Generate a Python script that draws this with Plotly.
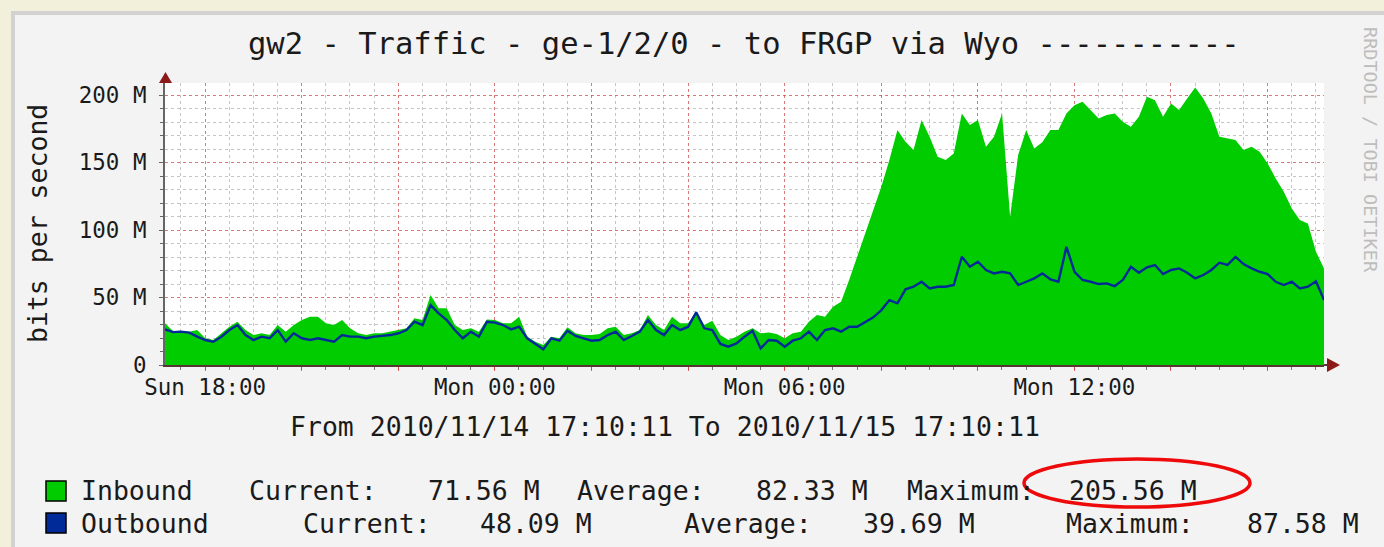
import plotly.graph_objects as go
import pandas as pd

# ---------------- data ----------------
title_text = "gw2 - Traffic - ge-1/2/0 - to FRGP via Wyo -----------"
range_text = "From 2010/11/14 17:10:11 To 2010/11/15 17:10:11"
y_title = "bits per second"
watermark = "RRDTOOL / TOBI OETIKER"

start_time = "2010-11-14 17:10:11"
end_time = "2010-11-15 17:10:11"
times = pd.date_range(start_time, periods=145, freq="10min")

inbound = [
    30.9, 25.2, 24.7, 24.7, 25.9, 19.8, 18.5, 23.5, 28.4, 32.1,
    25.9, 22.2, 23.5, 22.2, 29.6, 24.7, 29.6, 33.3, 35.8, 35.8,
    30.9, 29.6, 33.3, 27.2, 23.5, 22.2, 23.5, 23.5, 24.7, 25.9,
    27.2, 34.6, 33.3, 51.9, 42.0, 42.0, 29.6, 25.9, 27.2, 24.7,
    33.8, 33.3, 30.9, 30.9, 35.8, 21.0, 17.3, 14.8, 21.0, 19.8,
    27.9, 23.5, 22.2, 22.2, 23.0, 27.2, 28.4, 22.2, 23.5, 25.9,
    37.0, 29.6, 25.9, 35.8, 30.9, 30.9, 39.5, 29.6, 32.8, 22.2,
    18.5, 21.0, 24.7, 27.2, 23.5, 24.0, 23.0, 19.8, 23.5, 24.7,
    32.1, 37.0, 35.8, 43.2, 46.9, 63.0, 80.2, 97.5, 114.8, 132.1,
    151.9, 174.1, 165.4, 159.3, 181.5, 169.1, 154.3, 151.9, 156.8, 186.4,
    177.8, 181.5, 161.7, 169.1, 186.4, 109.9, 155.6, 174.1, 160.5, 165.0,
    174.1, 174.1, 186.4, 192.6, 195.1, 188.9, 182.7, 185.2, 186.4, 180.2,
    176.5, 183.9, 198.8, 196.3, 183.9, 193.8, 188.9, 197.5, 205.6, 197.5,
    186.4, 169.1, 167.9, 166.7, 159.3, 161.7, 158.0, 149.4, 138.3, 128.4,
    116.0, 107.4, 104.9, 84.0, 71.6,
]

outbound = [
    26.4, 24.4, 24.7, 24.0, 21.0, 18.5, 17.3, 21.0, 25.9, 29.6,
    22.2, 18.5, 21.0, 19.8, 25.9, 17.3, 23.5, 19.8, 18.5, 19.8,
    18.5, 17.3, 22.2, 21.0, 21.0, 19.8, 21.0, 21.5, 22.2, 23.5,
    25.9, 32.1, 29.6, 44.4, 38.3, 33.3, 25.9, 19.8, 24.7, 21.0,
    32.1, 31.4, 29.6, 26.4, 28.4, 19.8, 16.0, 11.6, 19.8, 18.0,
    25.4, 21.5, 19.8, 18.0, 18.5, 22.2, 24.7, 18.5, 21.5, 24.7,
    33.3, 25.9, 22.2, 29.6, 25.9, 28.4, 39.0, 27.2, 25.9, 15.6,
    13.6, 16.0, 21.0, 25.4, 12.3, 18.5, 18.0, 13.6, 18.0, 19.8,
    24.7, 18.5, 25.9, 27.2, 24.7, 28.4, 28.4, 32.1, 35.3, 40.7,
    48.1, 45.7, 56.1, 58.0, 61.7, 56.8, 58.0, 58.0, 59.3, 80.2,
    72.8, 76.5, 70.4, 67.9, 69.1, 67.9, 59.3, 61.7, 64.2, 67.9,
    63.5, 61.7, 87.6, 69.1, 63.0, 61.7, 60.0, 60.5, 58.5, 63.0,
    72.8, 68.4, 72.4, 74.1, 67.4, 70.4, 71.6, 68.4, 64.2, 66.7,
    70.4, 75.8, 74.1, 80.2, 74.8, 71.6, 69.1, 67.4, 61.7, 59.3,
    61.7, 56.8, 58.0, 62.0, 48.1,
]

x_tickvals = [
    "2010-11-14 18:00", "2010-11-14 20:00", "2010-11-14 22:00",
    "2010-11-15 00:00", "2010-11-15 02:00", "2010-11-15 04:00",
    "2010-11-15 06:00", "2010-11-15 08:00", "2010-11-15 10:00",
    "2010-11-15 12:00", "2010-11-15 14:00", "2010-11-15 16:00",
]
x_ticktext = ["Sun 18:00", "", "", "Mon 00:00", "", "", "Mon 06:00", "", "",
              "Mon 12:00", "", ""]
y_tickvals = [0, 50, 100, 150, 200]
y_ticktext = ["0", "50 M", "100 M", "150 M", "200 M"]

series_names = ["Inbound", "Outbound"]
current_vals = ["71.56 M", "48.09 M"]
average_vals = ["82.33 M", "39.69 M"]
maximum_vals = ["205.56 M", "87.58 M"]

# ---------------- styling / geometry ----------------
W, H = 1384, 547
L, R, T, B = 165, 1324, 83, 365
MONO = "DejaVu Sans Mono"
GREEN = "#00CC00"
BLUE = "#002A97"
CREAM = "#F2EFDB"
PANEL = "#F3F3F3"
TXT = "#1a1a1a"


def px(x):
    return (x - L) / (R - L)


def py(y):
    return (B - y) / (B - T)


fig = go.Figure()
fig.add_trace(go.Scatter(
    x=times, y=inbound, mode="lines", fill="tozeroy",
    line=dict(width=0, color=GREEN), fillcolor=GREEN,
    name=series_names[0], showlegend=False, hoverinfo="skip"))
fig.add_trace(go.Scatter(
    x=times, y=outbound, mode="lines",
    line=dict(width=2.4, color=BLUE),
    name=series_names[1], showlegend=False, hoverinfo="skip"))

major_grid = "rgba(230,60,60,0.55)"
minor_grid = "rgba(150,150,150,0.55)"

fig.update_xaxes(
    type="date", range=[start_time, end_time],
    tickmode="array", tickvals=x_tickvals, ticktext=x_ticktext,
    showgrid=True, gridcolor=major_grid, griddash="dot", gridwidth=1,
    ticks="outside", ticklen=4, tickcolor="rgba(220,60,60,0.8)",
    tickfont=dict(family=MONO, size=22.5, color=TXT),
    ticklabelstandoff=-3,
    showline=True, linecolor="#5a3434", linewidth=2,
    zeroline=False, fixedrange=True,
    minor=dict(tickmode="linear", tick0="2010-11-14 17:30", dtick=1800000,
               showgrid=True, gridcolor=minor_grid, griddash="dot",
               gridwidth=1, ticks="outside", ticklen=3,
               tickcolor="#777777"),
)
fig.update_yaxes(
    range=[0, 209], tickmode="array", tickvals=y_tickvals,
    ticktext=y_ticktext,
    showgrid=True, gridcolor=major_grid, griddash="dot", gridwidth=1,
    ticks="outside", ticklen=4, tickcolor="#666666",
    tickfont=dict(family=MONO, size=22.5, color=TXT),
    ticklabelstandoff=8,
    showline=True, linecolor="#666666", linewidth=2,
    zeroline=False, fixedrange=True,
    minor=dict(tickmode="linear", tick0=0, dtick=10, showgrid=True,
               gridcolor=minor_grid, griddash="dot", gridwidth=1,
               ticks="outside", ticklen=3, tickcolor="#666666"),
)

shapes = []
# cream outer border strips and grey frame
shapes.append(dict(type="rect", xref="paper", yref="paper", layer="above",
                   x0=px(-5), x1=px(W + 5), y0=py(-5), y1=py(11),
                   fillcolor=CREAM, line=dict(width=0)))
shapes.append(dict(type="rect", xref="paper", yref="paper", layer="above",
                   x0=px(-5), x1=px(11), y0=py(-5), y1=py(H + 5),
                   fillcolor=CREAM, line=dict(width=0)))
shapes.append(dict(type="line", xref="paper", yref="paper", layer="above",
                   x0=px(13), x1=px(W + 5), y0=py(13), y1=py(13),
                   line=dict(color="#D2D2D2", width=4)))
shapes.append(dict(type="line", xref="paper", yref="paper", layer="above",
                   x0=px(13), x1=px(13), y0=py(11), y1=py(H + 5),
                   line=dict(color="#D2D2D2", width=4)))
# axis arrows
ARROW = "#8B1A1A"
shapes.append(dict(type="path", xref="paper", yref="paper", layer="above",
                   path=f"M {px(159)} {py(83)} L {px(172)} {py(83)} L {px(165.5)} {py(72)} Z",
                   fillcolor=ARROW, line=dict(width=0)))
shapes.append(dict(type="line", xref="paper", yref="paper", layer="above",
                   x0=px(R), x1=px(1328), y0=py(365), y1=py(365),
                   line=dict(color="#5a3434", width=2)))
shapes.append(dict(type="path", xref="paper", yref="paper", layer="above",
                   path=f"M {px(1327)} {py(358)} L {px(1327)} {py(372)} L {px(1340)} {py(365)} Z",
                   fillcolor=ARROW, line=dict(width=0)))
# legend swatches
shapes.append(dict(type="rect", xref="paper", yref="paper", layer="above",
                   x0=px(46), x1=px(66), y0=py(481), y1=py(501),
                   fillcolor=GREEN, line=dict(color="#000000", width=1.5)))
shapes.append(dict(type="rect", xref="paper", yref="paper", layer="above",
                   x0=px(46), x1=px(66), y0=py(513), y1=py(533),
                   fillcolor=BLUE, line=dict(color="#000000", width=1.5)))
# red highlight ellipse
shapes.append(dict(type="circle", xref="paper", yref="paper", layer="above",
                   x0=px(1024), x1=px(1250), y0=py(459), y1=py(507),
                   line=dict(color="#EE0A0A", width=3.5)))

ann = []


def text(x, y, s, size=26.5, xanchor="left", color=TXT, angle=0):
    ann.append(dict(xref="paper", yref="paper", x=px(x), y=py(y), text=s,
                    showarrow=False, xanchor=xanchor, yanchor="middle",
                    textangle=angle,
                    font=dict(family=MONO, size=size, color=color)))


text(744, 43, title_text, size=30.5, xanchor="center")
text(665, 426, range_text, xanchor="center")
text(37, 224, y_title, xanchor="center", angle=-90)
text(1371, 150, watermark, size=18.5, xanchor="center", color="#BDBDBD",
     angle=90)

row_y = [491, 523]
label_x = [[247, 575, 905], [301, 682, 1064]]
value_x = [[426, 754, 1067], [478, 861, 1245]]
labels = ["Current:", "Average:", "Maximum:"]
for i in range(2):
    text(79, row_y[i], series_names[i])
    vals = [current_vals[i], average_vals[i], maximum_vals[i]]
    for j in range(3):
        text(label_x[i][j], row_y[i], labels[j])
        text(value_x[i][j], row_y[i], vals[j])

fig.update_layout(
    width=W, height=H,
    margin=dict(l=L, r=W - R, t=T, b=H - B, pad=0),
    paper_bgcolor=PANEL, plot_bgcolor="#FFFFFF",
    shapes=shapes, annotations=ann, showlegend=False,
)

fig.write_html(
    "out.html",
    config={"displayModeBar": False},
    post_script="document.body.style.margin='0px';"
                "document.body.style.backgroundColor='#F2EFDB';",
)
